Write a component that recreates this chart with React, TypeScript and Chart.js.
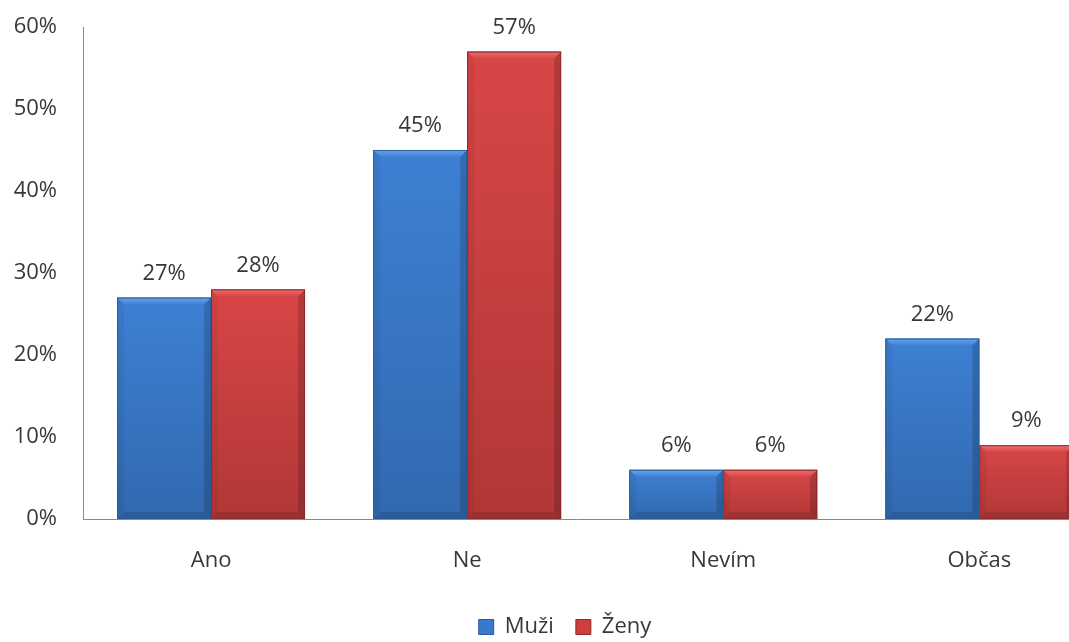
import React, { useEffect, useRef } from "react";
import { Chart, registerables } from "chart.js";

Chart.register(...registerables);

const categories = ["Ano", "Ne", "Nevím", "Občas"];
const muzi = [27, 45, 6, 22];
const zeny = [28, 57, 6, 9];
const seriesNames = ["Muži", "Ženy"];
const yTickValues = [0, 10, 20, 30, 40, 50, 60];

const FONT = "'Open Sans', 'DejaVu Sans', sans-serif";
const FS = 22;
const TEXT = "#383838";

const palette = [
  { base: "#3979C9", top: "#3D80D3", bottom: "#3169AF", light: "#6AA6EA", border: "#2A5C9C" },
  { base: "#CE3E3E", top: "#D84646", bottom: "#B13737", light: "#EE6E6E", border: "#8E2A2A" },
];

const bevelPlugin = {
  id: "bevel",
  afterDatasetDraw(chart: any, args: any) {
    const ctx = chart.ctx;
    const meta = args.meta;
    const col = palette[args.index];
    ctx.save();
    const area = chart.chartArea;
    ctx.beginPath();
    ctx.rect(area.left, area.top - 2, area.right - area.left, area.bottom - area.top + 2);
    ctx.clip();
    meta.data.forEach((el: any) => {
      const p = el.getProps(["x", "y", "base", "width"], true);
      const L = p.x - p.width / 2;
      const R = p.x + p.width / 2;
      const T = Math.min(p.y, p.base);
      const B = Math.max(p.y, p.base);
      const h = B - T;
      const bev = Math.min(7, h / 2);
      const body = ctx.createLinearGradient(0, T, 0, B);
      body.addColorStop(0, col.top);
      body.addColorStop(1, col.bottom);
      ctx.fillStyle = body;
      ctx.fillRect(L, T, p.width, h);
      const tg = ctx.createLinearGradient(0, T, 0, T + bev);
      tg.addColorStop(0, col.light);
      tg.addColorStop(1, col.top);
      ctx.fillStyle = tg;
      ctx.beginPath();
      ctx.moveTo(L, T);
      ctx.lineTo(R, T);
      ctx.lineTo(R - bev, T + bev);
      ctx.lineTo(L + bev, T + bev);
      ctx.closePath();
      ctx.fill();
      ctx.fillStyle = "rgba(0,0,0,0.05)";
      ctx.beginPath();
      ctx.moveTo(L, T);
      ctx.lineTo(L + bev, T + bev);
      ctx.lineTo(L + bev, B - bev);
      ctx.lineTo(L, B);
      ctx.closePath();
      ctx.fill();
      ctx.fillStyle = "rgba(0,0,0,0.16)";
      ctx.beginPath();
      ctx.moveTo(R, T);
      ctx.lineTo(R - bev, T + bev);
      ctx.lineTo(R - bev, B - bev);
      ctx.lineTo(R, B);
      ctx.closePath();
      ctx.fill();
      ctx.fillStyle = "rgba(0,0,0,0.12)";
      ctx.beginPath();
      ctx.moveTo(L, B);
      ctx.lineTo(L + bev, B - bev);
      ctx.lineTo(R - bev, B - bev);
      ctx.lineTo(R, B);
      ctx.closePath();
      ctx.fill();
      ctx.strokeStyle = col.border;
      ctx.lineWidth = 1;
      ctx.strokeRect(L + 0.5, T + 0.5, p.width - 1, h - 1);
    });
    ctx.restore();
  },
};

const labelPlugin = {
  id: "valueLabels",
  afterDatasetsDraw(chart: any) {
    const ctx = chart.ctx;
    ctx.save();
    ctx.font = `${FS}px ${FONT}`;
    ctx.fillStyle = TEXT;
    ctx.textAlign = "center";
    ctx.textBaseline = "middle";
    chart.data.datasets.forEach((ds: any, di: number) => {
      const meta = chart.getDatasetMeta(di);
      meta.data.forEach((el: any, i: number) => {
        const p = el.getProps(["x", "y"], true);
        ctx.fillText(`${ds.data[i].y}%`, p.x, p.y - 24);
      });
    });
    ctx.restore();
  },
};

const legendShift = {
  id: "legendShift",
  afterLayout(chart: any) {
    const lg = chart.legend;
    if (lg) {
      lg.left -= 11;
      lg.right -= 11;
    }
  },
};

export default function App() {
  const ref = useRef<HTMLCanvasElement | null>(null);

  useEffect(() => {
    if (!ref.current) return;
    const series = [muzi, zeny];
    const chart = new Chart(ref.current, {
      type: "bar",
      data: {
        datasets: series.map((vals, si) => ({
          label: seriesNames[si],
          data: vals.map((y, i) => ({ x: i, y })),
          backgroundColor: palette[si].base,
          borderColor: palette[si].border,
          borderWidth: 1,
          categoryPercentage: 0.734,
          barPercentage: 1,
        })),
      },
      options: {
        animation: false,
        responsive: false,
        layout: { padding: { top: 27, right: 0, bottom: -6, left: 0 } },
        plugins: {
          tooltip: { enabled: false },
          legend: {
            position: "bottom",
            fullSize: false,
            labels: {
              font: { family: FONT, size: FS },
              color: TEXT,
              boxWidth: 15,
              boxHeight: 15,
              padding: 22,
            },
          },
        },
        scales: {
          x: {
            type: "linear",
            min: -0.5,
            max: 3.35,
            offset: false,
            grid: { display: false, drawTicks: false },
            border: { display: true, color: "#8a8a8a", width: 1 },
            afterBuildTicks: (s: any) => {
              s.ticks = categories.map((_, i) => ({ value: i }));
            },
            afterFit: (s: any) => {
              s.height = 75;
            },
            ticks: {
              autoSkip: false,
              maxRotation: 0,
              padding: 29,
              font: { family: FONT, size: FS },
              color: TEXT,
              callback: (v: any) => categories[v] ?? "",
            },
          },
          y: {
            min: 0,
            max: 60,
            grid: { display: false, drawTicks: false },
            border: { display: true, color: "#8a8a8a", width: 1 },
            afterBuildTicks: (s: any) => {
              s.ticks = yTickValues.map((v) => ({ value: v }));
            },
            afterFit: (s: any) => {
              s.width = 83;
              s.paddingTop = 0;
              s.paddingBottom = 0;
            },
            ticks: {
              padding: 26,
              font: { family: FONT, size: FS },
              color: TEXT,
              callback: (v: any) => `${v}%`,
            },
          },
        },
      } as any,
      plugins: [bevelPlugin, labelPlugin, legendShift],
    });
    return () => chart.destroy();
  }, []);

  return (
    <div
      style={{
        position: "fixed",
        left: 0,
        top: 0,
        width: 1069,
        height: 642,
        overflow: "hidden",
        background: "#ffffff",
      }}
    >
      <canvas ref={ref} width={1069} height={642} style={{ display: "block" }} />
    </div>
  );
}
